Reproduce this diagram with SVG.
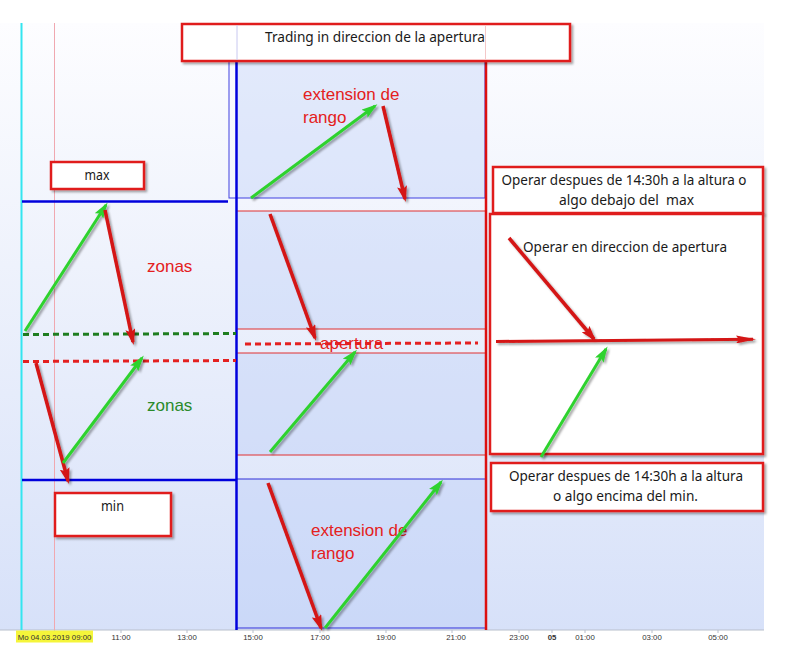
<svg xmlns="http://www.w3.org/2000/svg" width="791" height="650" viewBox="0 0 791 650">
<defs>
<linearGradient id="bg" x1="0" y1="23" x2="0" y2="630" gradientUnits="userSpaceOnUse">
<stop offset="0" stop-color="#fdfdff"/>
<stop offset="0.4" stop-color="#eef2fc"/>
<stop offset="1" stop-color="#d7e1f9"/>
</linearGradient>
<filter id="sh" x="-20%" y="-20%" width="140%" height="140%">
<feDropShadow dx="2" dy="2" stdDeviation="1.2" flood-color="#000" flood-opacity="0.35"/>
</filter>
<marker id="ag" viewBox="0 0 16 10" refX="13" refY="5" markerWidth="16" markerHeight="10" markerUnits="userSpaceOnUse" orient="auto">
<path d="M0,0 L16,5 L0,10 L3,5 Z" fill="#2ed22e"/>
</marker>
<marker id="ar" viewBox="0 0 16 10" refX="13" refY="5" markerWidth="16" markerHeight="10" markerUnits="userSpaceOnUse" orient="auto">
<path d="M0,0 L16,5 L0,10 L3,5 Z" fill="#d41414"/>
</marker>
<marker id="ar2" viewBox="0 0 20 8" refX="17" refY="4" markerWidth="20" markerHeight="8" markerUnits="userSpaceOnUse" orient="auto">
<path d="M0,0 L20,4 L0,8 L3,4 Z" fill="#d41414"/>
</marker>
</defs>
<style>
.box{fill:#ffffff;stroke:#e01e1e;stroke-width:2.5;filter:url(#sh)}
.bt{font-family:"Noto Sans","Open Sans",sans-serif;font-size:13.5px;fill:#1a1a1a;text-anchor:middle}
.lbl{font-family:"Liberation Sans",Arial,sans-serif;font-size:17px}
.ax{font-family:"Liberation Sans",Arial,sans-serif;font-size:7.8px;fill:#333;text-anchor:middle}
.g{stroke:#2ed22e;stroke-width:3;fill:none;marker-end:url(#ag)}
.r{stroke:#d41414;stroke-width:3.5;fill:none;marker-end:url(#ar)}
.dark{fill:#b4c8f5;fill-opacity:0.35}
</style>
<rect x="0" y="0" width="791" height="650" fill="#ffffff"/>
<g id="chart">
<rect x="0" y="23" width="764" height="607" fill="url(#bg)"/>
<rect class="dark" x="237" y="61" width="248" height="137"/>
<rect class="dark" x="237" y="211" width="248" height="118"/>
<rect class="dark" x="237" y="353" width="248" height="102"/>
<rect class="dark" x="237" y="479" width="248" height="149"/>
<line x1="0" y1="630" x2="764" y2="630" stroke="#b8bfcc" stroke-width="1"/>
<line x1="21.5" y1="23" x2="21.5" y2="630" stroke="#33e5f0" stroke-width="2"/>
<line x1="54.5" y1="23" x2="54.5" y2="630" stroke="#f0a8b0" stroke-width="1"/>
<rect x="229" y="61" width="256" height="137" fill="none" stroke="#4040e0" stroke-width="1"/>
<g stroke="#e03030" stroke-width="1">
<line x1="237" y1="211" x2="485" y2="211"/>
<line x1="237" y1="329" x2="485" y2="329"/>
<line x1="237" y1="353" x2="485" y2="353"/>
<line x1="237" y1="455" x2="485" y2="455"/>
</g>
<g stroke="#3030d8" stroke-width="1">
<line x1="237" y1="479" x2="485" y2="479"/>
<line x1="237" y1="628" x2="485" y2="628"/>
</g>
<line x1="236.5" y1="61" x2="236.5" y2="630" stroke="#0000dc" stroke-width="2.5"/>
<line x1="486" y1="61" x2="486" y2="630" stroke="#dc1010" stroke-width="2.5"/>
<line x1="22" y1="201.5" x2="228" y2="201.5" stroke="#0000dc" stroke-width="2.5"/>
<line x1="22" y1="480" x2="236" y2="480" stroke="#0000dc" stroke-width="2.5"/>
<line x1="23" y1="334.5" x2="236" y2="333.5" stroke="#1f7d1f" stroke-width="3" stroke-dasharray="6,4"/>
<line x1="23" y1="361.5" x2="236" y2="360.5" stroke="#e42020" stroke-width="3" stroke-dasharray="6,4"/>
<line x1="245" y1="344" x2="478" y2="343" stroke="#e42020" stroke-width="3" stroke-dasharray="6,4"/>
</g>
<g id="axis">
<g stroke="#b8bfcc" stroke-width="1">
<line x1="54.5" y1="630" x2="54.5" y2="633"/>
<line x1="121" y1="630" x2="121" y2="633"/>
<line x1="187" y1="630" x2="187" y2="633"/>
<line x1="253" y1="630" x2="253" y2="633"/>
<line x1="320" y1="630" x2="320" y2="633"/>
<line x1="386" y1="630" x2="386" y2="633"/>
<line x1="452" y1="630" x2="452" y2="633"/>
<line x1="519" y1="630" x2="519" y2="633"/>
<line x1="552" y1="630" x2="552" y2="633"/>
<line x1="585" y1="630" x2="585" y2="633"/>
<line x1="652" y1="630" x2="652" y2="633"/>
<line x1="718" y1="630" x2="718" y2="633"/>
</g>
<rect x="16" y="630.5" width="77" height="12" fill="#f5f53a"/>
<text class="ax" x="54.5" y="640">Mo 04.03.2019 09:00</text>
<text class="ax" x="121" y="640">11:00</text>
<text class="ax" x="187" y="640">13:00</text>
<text class="ax" x="253" y="640">15:00</text>
<text class="ax" x="320" y="640">17:00</text>
<text class="ax" x="386" y="640">19:00</text>
<text class="ax" x="456" y="640">21:00</text>
<text class="ax" x="519" y="640">23:00</text>
<text class="ax" x="552" y="640" font-weight="bold" font-size="9px">05</text>
<text class="ax" x="585" y="640">01:00</text>
<text class="ax" x="652" y="640">03:00</text>
<text class="ax" x="718" y="640">05:00</text>
</g>
<g id="title">
<rect class="box" x="182" y="24" width="388" height="37"/>
<line x1="237" y1="25" x2="237" y2="60" stroke="#c8c8f0" stroke-width="1"/>
<line x1="485.5" y1="25" x2="485.5" y2="60" stroke="#f4c8c8" stroke-width="1"/>
<text class="bt" x="375" y="42" textLength="220" lengthAdjust="spacingAndGlyphs">Trading in direccion de la apertura</text>
</g>
<g id="max">
<rect class="box" x="51" y="162" width="93" height="27"/>
<text class="bt" x="97" y="180" font-size="12.5px" textLength="25" lengthAdjust="spacingAndGlyphs">max</text>
</g>
<g id="min">
<rect class="box" x="55" y="493" width="116" height="43"/>
<text class="bt" x="112.5" y="511" font-size="12.5px" textLength="23" lengthAdjust="spacingAndGlyphs">min</text>
</g>
<g id="box-max">
<rect class="box" x="493" y="167" width="270" height="46"/>
<text class="bt" x="624" y="185" textLength="245" lengthAdjust="spacingAndGlyphs">Operar despues de 14:30h a la altura o</text>
<text class="bt" x="626.5" y="205" textLength="135" lengthAdjust="spacingAndGlyphs" xml:space="preserve">algo debajo del  max</text>
</g>
<g id="box-dir">
<rect class="box" x="490" y="214" width="273" height="240"/>
<text class="bt" x="625" y="252" textLength="204" lengthAdjust="spacingAndGlyphs">Operar en direccion de apertura</text>
</g>
<g id="box-min">
<rect class="box" x="491" y="463" width="272" height="48"/>
<text class="bt" x="626" y="481" textLength="234" lengthAdjust="spacingAndGlyphs">Operar despues de 14:30h a la altura</text>
<text class="bt" x="625.5" y="501" textLength="145" lengthAdjust="spacingAndGlyphs">o algo encima del min.</text>
</g>
<g id="labels" class="lbl">
<text x="147" y="272" fill="#e42020">zonas</text>
<text x="147" y="411" fill="#2a8a2a">zonas</text>
<text x="303" y="100" fill="#e42020">extension de</text>
<text x="303" y="123" fill="#e42020">rango</text>
<text x="311" y="536" fill="#e42020">extension de</text>
<text x="311" y="559" fill="#e42020">rango</text>
</g>
<g id="connectors" filter="url(#sh)">
<line class="g" x1="25" y1="331" x2="106" y2="205"/>
<line class="r" x1="105" y1="210" x2="133" y2="342"/>
<line class="r" x1="36" y1="363" x2="68" y2="481"/>
<line class="g" x1="63" y1="463" x2="142" y2="358"/>
<line class="g" x1="251" y1="198" x2="375" y2="106"/>
<line class="r" x1="383" y1="106" x2="405" y2="199"/>
<line class="r" x1="270" y1="214" x2="315" y2="338"/>
<line class="g" x1="270" y1="452" x2="355" y2="352"/>
<line class="r" x1="268" y1="483" x2="321" y2="628"/>
<line class="g" x1="325" y1="628" x2="441" y2="482"/>
<line x1="496" y1="341.5" x2="753" y2="339.3" stroke="#d41414" stroke-width="3" marker-end="url(#ar2)"/>
<line class="r" x1="509" y1="238" x2="594" y2="339"/>
<line class="g" x1="541" y1="457" x2="606" y2="349"/>
</g>
<g id="label-apertura" class="lbl">
<text x="320" y="349" fill="#e42020">apertura</text>
</g>
</svg>
